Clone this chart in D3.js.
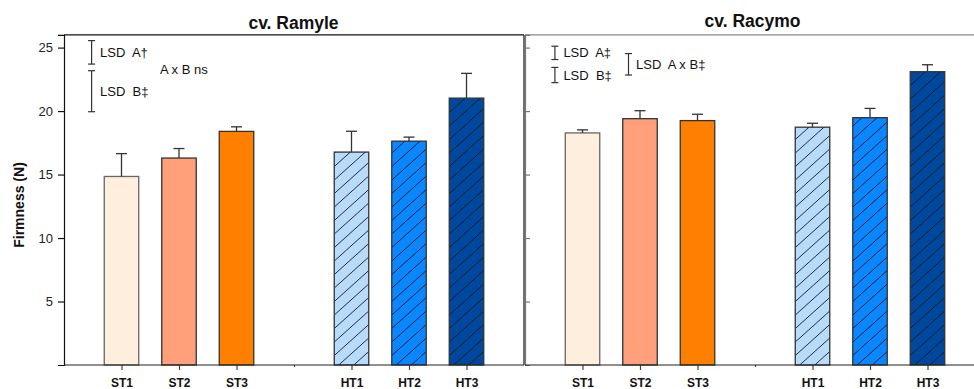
<!DOCTYPE html>
<html>
<head>
<meta charset="utf-8">
<script src="https://cdn.jsdelivr.net/npm/d3@7"></script>
<style>
  body { margin: 0; background: #fff; }
  svg { display: block; font-family: Arial, "Liberation Sans", sans-serif; }
</style>
</head>
<body>
<div id="chart"></div>
<script>
// treatments, slot 4 on the axis is left empty between ST and HT
const treatments = ['ST1', 'ST2', 'ST3', 'HT1', 'HT2', 'HT3'];
const slots = [1, 2, 3, 5, 6, 7];
const colors = ['#fdeedd', '#ffa07a', '#ff8000', '#b7dbfb', '#0a86ff', '#00489d'];
const hatched = [false, false, false, true, true, true];

// firmness means and SE
const ramyleMean = [14.85, 16.3, 18.4, 16.77, 17.63, 21.02];
const ramyleErr = [1.8, 0.75, 0.36, 1.64, 0.32, 1.95];
const racymoMean = [18.28, 19.4, 19.25, 18.73, 19.48, 23.1];
const racymoErr = [0.24, 0.63, 0.5, 0.31, 0.73, 0.55];

// LSD bars: [low, high]
const ramyleLsd = [[23.7, 25.55], [19.95, 23.18]];
const racymoLsd = [[24.06, 25.11], [22.24, 23.44], [22.84, 24.53]];

const yTicks = [5, 10, 15, 20, 25];

const W = 974, H = 389;
const svg = d3.select('#chart').append('svg').attr('width', W).attr('height', H);
const defs = svg.append('defs');

const y = d3.scaleLinear().domain([0, 26]).range([365, 34.9]);

function drawPanel(opt) {
  const x = d3.scaleLinear().domain([0, 8]).range([opt.left, opt.left + 460]);
  const g = svg.append('g');
  const bw = 34.5;

  // frame top (and right border for the first panel)
  g.append('line')
    .attr('x1', opt.left).attr('x2', opt.frameRight)
    .attr('y1', y(26)).attr('y2', y(26))
    .attr('stroke', opt.frameColor).attr('stroke-width', 1.2);
  if (opt.rightBorder) {
    g.append('line')
      .attr('x1', opt.frameRight).attr('x2', opt.frameRight)
      .attr('y1', y(26)).attr('y2', y(0))
      .attr('stroke', '#111').attr('stroke-width', 1.2);
  }

  // bars
  g.selectAll('.bar')
    .data(opt.mean)
    .enter()
    .append('rect')
    .attr('class', 'bar')
    .attr('x', (d, i) => x(slots[i]) - bw / 2)
    .attr('width', bw)
    .attr('y', (d) => y(d))
    .attr('height', (d) => y(0) - y(d))
    .attr('fill', (d, i) => colors[i]);

  // hatching on HT bars: thin diagonal lines clipped to each bar
  opt.mean.forEach((d, i) => {
    if (!hatched[i]) return;
    const x0 = x(slots[i]) - bw / 2, y0 = y(d), y1 = y(0);
    const id = 'clip-' + opt.key + i;
    defs.append('clipPath').attr('id', id)
      .append('rect').attr('x', x0).attr('y', y0).attr('width', bw).attr('height', y1 - y0);
    const step = 13.5, rise = bw * 0.9;
    g.append('g').attr('clip-path', `url(#${id})`)
      .selectAll('line')
      .data(d3.range(y1 + rise, y0 - step, -step))
      .enter()
      .append('line')
      .attr('x1', x0).attr('x2', x0 + bw)
      .attr('y1', (v) => v).attr('y2', (v) => v - rise)
      .attr('stroke', '#1a1a1a')
      .attr('stroke-width', 0.9);
  });

  g.selectAll('.outline')
    .data(opt.mean)
    .enter()
    .append('rect')
    .attr('class', 'outline')
    .attr('x', (d, i) => x(slots[i]) - bw / 2)
    .attr('width', bw)
    .attr('y', (d) => y(d))
    .attr('height', (d) => y(0) - y(d))
    .attr('fill', 'none')
    .attr('stroke', (d, i) => i === 0 ? '#666' : '#333')
    .attr('stroke-width', 1.3);

  // error bars, upper half only
  const eb = g.selectAll('.err')
    .data(opt.mean)
    .enter()
    .append('g')
    .attr('class', 'err')
    .attr('stroke', '#333')
    .attr('stroke-width', 1.3);
  eb.append('line')
    .attr('x1', (d, i) => x(slots[i])).attr('x2', (d, i) => x(slots[i]))
    .attr('y1', (d) => y(d)).attr('y2', (d, i) => y(d + opt.err[i]));
  eb.append('line')
    .attr('x1', (d, i) => x(slots[i]) - 5.5).attr('x2', (d, i) => x(slots[i]) + 5.5)
    .attr('y1', (d, i) => y(d + opt.err[i])).attr('y2', (d, i) => y(d + opt.err[i]));

  // y axis
  const yAxis = opt.labels
    ? d3.axisLeft(y).tickValues(yTicks).tickSize(6).tickPadding(5)
    : d3.axisRight(y).tickValues(yTicks).tickSize(5).tickFormat('');
  const ya = g.append('g')
    .attr('transform', `translate(${opt.left},0)`)
    .call(yAxis);
  ya.select('.domain').attr('stroke', opt.axisColor).attr('stroke-width', 1.2);
  ya.selectAll('.tick line').attr('stroke', opt.axisColor).attr('stroke-width', 1.2);
  ya.selectAll('.tick text').attr('font-size', 13).attr('fill', '#222')
    .attr('font-family', 'Arial, "Liberation Sans", sans-serif');

  // x axis
  const xa = g.append('g')
    .attr('transform', `translate(0,${y(0)})`)
    .call(d3.axisBottom(x)
      .tickValues([1, 2, 3, 4, 5, 6, 7])
      .tickSize(5)
      .tickPadding(8.5)
      .tickFormat((d) => slots.includes(d) ? treatments[slots.indexOf(d)] : ''));
  xa.select('.domain').remove();
  xa.append('line')
    .attr('x1', opt.left).attr('x2', opt.axisRight)
    .attr('stroke', '#222').attr('stroke-width', 1.2);
  xa.selectAll('.tick line').attr('stroke', '#444').attr('stroke-width', 1.2)
    .filter((d) => d === 4).attr('y2', 2);
  xa.selectAll('.tick text')
    .attr('font-size', 12).attr('font-weight', 'bold').attr('fill', '#111')
    .attr('font-family', 'Arial, "Liberation Sans", sans-serif');

  // LSD bars
  opt.lsd.forEach((r, i) => {
    const cx = x(opt.lsdX[i]);
    const lg = g.append('g').attr('stroke', '#333').attr('stroke-width', 1.2);
    lg.append('line').attr('x1', cx).attr('x2', cx).attr('y1', y(r[0])).attr('y2', y(r[1]));
    lg.append('line').attr('x1', cx - 3.5).attr('x2', cx + 3.5).attr('y1', y(r[0])).attr('y2', y(r[0]));
    lg.append('line').attr('x1', cx - 3.5).attr('x2', cx + 3.5).attr('y1', y(r[1])).attr('y2', y(r[1]));
    g.append('text')
      .attr('x', cx + opt.lsdDx[i])
      .attr('y', y((r[0] + r[1]) / 2) + 4.5)
      .attr('font-size', 13).attr('fill', '#111')
      .style('white-space', 'pre')
      .text(opt.lsdText[i]);
  });
  if (opt.note) {
    g.append('text')
      .attr('x', x(opt.note.x)).attr('y', y(opt.note.y) + 4.5)
      .attr('font-size', 13).attr('fill', '#111')
      .text(opt.note.text);
  }

  // title
  svg.append('text')
    .attr('x', opt.titleX).attr('y', opt.titleY)
    .attr('text-anchor', 'middle')
    .attr('font-size', 17.5).attr('font-weight', 'bold').attr('fill', '#111')
    .text(opt.title);
}

drawPanel({
  key: 'ramyle',
  left: 64, frameRight: 524, axisRight: 524, rightBorder: true,
  frameColor: '#111', axisColor: '#111', labels: true,
  mean: ramyleMean, err: ramyleErr,
  lsd: ramyleLsd, lsdX: [0.48, 0.48], lsdDx: [8.5, 8.5],
  lsdText: ['LSD  A\u2020', 'LSD  B\u2021'],
  note: { text: 'A x B ns', x: 1.67, y: 23.3 },
  title: 'cv. Ramyle', titleX: 293.5, titleY: 29
});

drawPanel({
  key: 'racymo',
  left: 525, frameRight: 974, axisRight: 974, rightBorder: false,
  frameColor: '#888', axisColor: '#777', labels: false,
  mean: racymoMean, err: racymoErr,
  lsd: racymoLsd, lsdX: [0.52, 0.52, 1.8], lsdDx: [8.5, 8.5, 7.5],
  lsdText: ['LSD  A\u2021', 'LSD  B\u2021', 'LSD  A x B\u2021'],
  note: null,
  title: 'cv. Racymo', titleX: 752.5, titleY: 26.5
});

// y axis title
svg.append('text')
  .attr('transform', 'translate(24,205) rotate(-90)')
  .attr('text-anchor', 'middle')
  .attr('font-size', 14).attr('font-weight', 'bold').attr('fill', '#111')
  .text('Firmness (N)');
</script>
</body>
</html>
